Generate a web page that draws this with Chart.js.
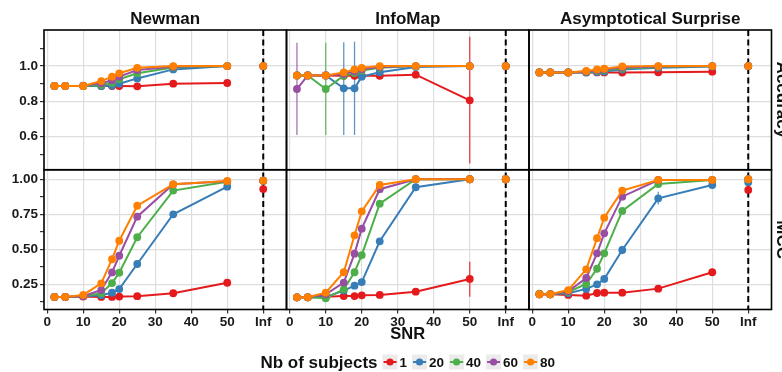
<!DOCTYPE html>
<html>
<head>
<meta charset="utf-8">
<script src="https://cdn.jsdelivr.net/npm/chart.js@4.4.1/dist/chart.umd.min.js"></script>
<style>
  html, body { margin: 0; padding: 0; background: #fff; }
  #wrap { position: relative; width: 782px; height: 372px; }
</style>
</head>
<body>
<div id="wrap"><canvas id="snrChart" width="782" height="372"></canvas></div>
<script>
// SNR values; "Inf" sits at x = 60
const INF = 60
const snr = [2, 5, 10, 15, 18, 20, 25, 35, 50, INF]
const snrTicks = [0, 10, 20, 30, 40, 50, INF]

const subjects = ['1', '20', '40', '60', '80']
const colors = ['#E41A1C', '#377EB8', '#4DAF4A', '#984EA3', '#FF7F00']

const methods = ['Newman', 'InfoMap', 'Asymptotical Surprise']
const metrics = ['Accuracy', 'MCC']

const accTicks = [0.5, 0.6, 0.7, 0.8, 0.9, 1.0, 1.1]
const accLabels = ['', '0.6', '', '0.8', '', '1.0', '']
const mccTicks = [0.125, 0.25, 0.375, 0.5, 0.625, 0.75, 0.875, 1.0]
const mccLabels = ['', '0.25', '', '0.50', '', '0.75', '', '1.00']

// accuracy, one row per nb of subjects (1, 20, 40, 60, 80)
const newmanAcc = [
  [0.887, 0.887, 0.887, 0.887, 0.887, 0.887, 0.885, 0.900, 0.904, 1.0],
  [0.887, 0.887, 0.887, 0.887, 0.890, 0.900, 0.930, 0.981, 1.0, 1.0],
  [0.887, 0.887, 0.887, 0.893, 0.905, 0.925, 0.959, 0.992, 1.0, 1.0],
  [0.887, 0.887, 0.889, 0.903, 0.920, 0.940, 0.977, 0.996, 1.0, 1.0],
  [0.887, 0.887, 0.887, 0.915, 0.940, 0.959, 0.990, 1.0, 1.0, 1.0]
]
const infomapAcc = [
  [0.947, 0.947, 0.947, 0.945, 0.945, 0.945, 0.945, 0.951, 0.806, 1.0],
  [0.947, 0.947, 0.947, 0.874, 0.874, 0.940, 0.965, 0.995, 1.0, 1.0],
  [0.947, 0.947, 0.870, 0.945, 0.960, 0.975, 0.990, 1.0, 1.0, 1.0],
  [0.870, 0.947, 0.947, 0.955, 0.970, 0.982, 0.995, 1.0, 1.0, 1.0],
  [0.947, 0.947, 0.947, 0.964, 0.981, 0.990, 1.0, 1.0, 1.0, 1.0]
]
const surpriseAcc = [
  [0.964, 0.964, 0.964, 0.964, 0.964, 0.964, 0.963, 0.965, 0.968, 1.0],
  [0.964, 0.964, 0.964, 0.964, 0.966, 0.969, 0.980, 0.990, 0.998, 1.0],
  [0.964, 0.964, 0.964, 0.967, 0.972, 0.976, 0.986, 0.995, 1.0, 1.0],
  [0.964, 0.964, 0.964, 0.969, 0.976, 0.981, 0.992, 0.998, 1.0, 1.0],
  [0.964, 0.964, 0.964, 0.972, 0.981, 0.985, 0.998, 1.0, 1.0, 1.0]
]

// MCC, one row per nb of subjects
const newmanMcc = [
  [0.160, 0.160, 0.163, 0.160, 0.160, 0.162, 0.165, 0.186, 0.261, 0.930],
  [0.160, 0.160, 0.165, 0.172, 0.190, 0.216, 0.395, 0.750, 0.947, 0.990],
  [0.160, 0.160, 0.165, 0.186, 0.259, 0.333, 0.586, 0.919, 0.983, 0.990],
  [0.160, 0.160, 0.165, 0.209, 0.335, 0.454, 0.733, 0.964, 0.985, 0.990],
  [0.160, 0.160, 0.174, 0.257, 0.429, 0.561, 0.811, 0.964, 0.988, 0.990]
]
const infomapMcc = [
  [0.157, 0.157, 0.161, 0.166, 0.166, 0.171, 0.174, 0.197, 0.288, 1.0],
  [0.157, 0.157, 0.160, 0.205, 0.240, 0.266, 0.557, 0.943, 1.0, 1.0],
  [0.157, 0.157, 0.150, 0.214, 0.336, 0.459, 0.826, 1.0, 1.0, 1.0],
  [0.157, 0.157, 0.179, 0.262, 0.469, 0.647, 0.929, 1.0, 1.0, 1.0],
  [0.157, 0.157, 0.190, 0.336, 0.600, 0.771, 0.959, 1.0, 1.0, 1.0]
]
const surpriseMcc = [
  [0.179, 0.179, 0.174, 0.169, 0.188, 0.190, 0.190, 0.219, 0.336, 0.924],
  [0.179, 0.179, 0.186, 0.217, 0.250, 0.288, 0.495, 0.864, 0.959, 0.979],
  [0.184, 0.179, 0.195, 0.252, 0.361, 0.471, 0.774, 0.966, 0.995, 1.0],
  [0.179, 0.179, 0.200, 0.295, 0.471, 0.614, 0.876, 0.995, 0.995, 1.0],
  [0.179, 0.179, 0.209, 0.357, 0.579, 0.726, 0.919, 0.995, 0.995, 1.0]
]

// error bars: method index, metric index, subject group index
const errBars = [
  { m: 1, k: 0, g: 3, x: 2, lo: 0.61, hi: 1.132 },
  { m: 1, k: 0, g: 2, x: 10, lo: 0.61, hi: 1.132 },
  { m: 1, k: 0, g: 1, x: 15, lo: 0.61, hi: 1.134 },
  { m: 1, k: 0, g: 1, x: 18, lo: 0.61, hi: 1.138 },
  { m: 1, k: 0, g: 0, x: 50, lo: 0.449, hi: 1.166 },
  { m: 1, k: 1, g: 0, x: 50, lo: 0.161, hi: 0.411 },
  { m: 2, k: 1, g: 0, x: 50, lo: 0.316, hi: 0.356 },
  { m: 2, k: 1, g: 1, x: 25, lo: 0.465, hi: 0.525 },
  { m: 2, k: 1, g: 1, x: 35, lo: 0.82, hi: 0.91 },
  { m: 2, k: 1, g: 1, x: 50, lo: 0.935, hi: 0.985 },
  { m: 0, k: 1, g: 0, x: INF, lo: 0.91, hi: 0.95 },
  { m: 2, k: 1, g: 0, x: INF, lo: 0.905, hi: 0.94 }
]

const panelData = [
  [newmanAcc, newmanMcc],
  [infomapAcc, infomapMcc],
  [surpriseAcc, surpriseMcc]
]

const FONT = '"Liberation Sans", Arial, Helvetica, sans-serif'
const tickFont = { family: FONT, size: 13.5, weight: 'bold' }

const datasets = []
methods.forEach((name, m) => {
  metrics.forEach((metric, k) => {
    subjects.forEach((s, g) => {
      const vals = panelData[m][k][g]
      datasets.push({
        label: name + ' ' + metric + ' ' + s,
        xAxisID: 'x' + m,
        yAxisID: k === 0 ? 'yAcc' : 'yMcc',
        data: snr.map((x, i) => ({ x: x, y: vals[i] })),
        borderColor: colors[g],
        backgroundColor: colors[g],
        borderWidth: 2,
        pointRadius: 3.9,
        pointBorderWidth: 0,
        order: 4 - g,
        // no line from 50 to Inf
        segment: {
          borderColor: ctx => (ctx.p1.parsed.x >= INF ? 'transparent' : colors[g])
        }
      })
    })
  })
})

function xScale (m) {
  return {
    type: 'linear',
    position: 'bottom',
    stack: 'cols',
    stackWeight: 1,
    min: -0.9,
    max: 66.46,
    afterBuildTicks: s => { s.ticks = snrTicks.map(v => ({ value: v })) },
    afterFit: s => { s.height = 34.5 },
    ticks: {
      callback: v => (v === INF ? 'Inf' : v),
      font: tickFont,
      color: '#1a1a1a',
      padding: 1,
      maxRotation: 0,
      autoSkip: false
    },
    grid: { color: '#dedede', lineWidth: 1.2, tickColor: '#333', tickLength: 4, tickWidth: 1.2 },
    border: { display: false },
    title: {
      display: m === 1,
      text: 'SNR',
      font: { family: FONT, size: 16.5, weight: 'bold' },
      color: '#111',
      padding: { top: 0, bottom: 0 }
    }
  }
}

function yScale (ticks, labels, min, max) {
  return {
    type: 'linear',
    position: 'left',
    stack: 'rows',
    stackWeight: 1,
    min: min,
    max: max,
    afterBuildTicks: s => { s.ticks = ticks.map(v => ({ value: v })) },
    afterFit: s => { s.width = 44 },
    ticks: {
      callback: (v, i) => labels[i],
      font: tickFont,
      color: '#1a1a1a',
      padding: 2,
      autoSkip: false
    },
    grid: {
      color: ctx => (labels[ctx.index] ? '#dedede' : 'transparent'),
      lineWidth: 1.2,
      tickColor: '#333',
      tickLength: 4,
      tickWidth: 1.2
    },
    border: { display: false }
  }
}

// dashed Inf line and error bars under the points, frames and labels on top
const facetPlugin = {
  id: 'facets',
  beforeDatasetsDraw (chart) {
    const { ctx, chartArea, scales } = chart
    ctx.save()
    methods.forEach((n, m) => {
      const xs = scales['x' + m]
      const px = xs.getPixelForValue(INF)
      ctx.beginPath()
      ctx.setLineDash([6, 3.5])
      ctx.strokeStyle = '#000'
      ctx.lineWidth = 2
      ctx.moveTo(px, chartArea.top)
      ctx.lineTo(px, chartArea.bottom)
      ctx.stroke()
    })
    ctx.setLineDash([])
    errBars.forEach(e => {
      const xs = scales['x' + e.m]
      const ys = e.k === 0 ? scales.yAcc : scales.yMcc
      const px = xs.getPixelForValue(e.x)
      ctx.beginPath()
      ctx.strokeStyle = colors[e.g]
      ctx.globalAlpha = 0.8
      ctx.lineWidth = 1.3
      ctx.moveTo(px, ys.getPixelForValue(e.lo))
      ctx.lineTo(px, ys.getPixelForValue(e.hi))
      ctx.stroke()
    })
    ctx.restore()
  },
  afterDatasetsDraw (chart) {
    const { ctx, scales } = chart
    ctx.save()
    ctx.strokeStyle = '#000'
    ctx.lineWidth = 1.6
    methods.forEach((n, m) => {
      const xs = scales['x' + m];
      [scales.yAcc, scales.yMcc].forEach(ys => {
        ctx.strokeRect(xs.left, ys.top, xs.right - xs.left, ys.bottom - ys.top)
      })
    })
    ctx.restore()
  },
  afterDraw (chart) {
    const { ctx, scales, chartArea } = chart
    ctx.save()
    ctx.fillStyle = '#111'
    ctx.font = 'bold 17px ' + FONT
    ctx.textAlign = 'center'
    ctx.textBaseline = 'alphabetic'
    methods.forEach((n, m) => {
      const xs = scales['x' + m]
      ctx.fillText(n, (xs.left + xs.right) / 2, 24)
    });
    [scales.yAcc, scales.yMcc].forEach((ys, k) => {
      ctx.save()
      ctx.translate(chartArea.right + 1.5, (ys.top + ys.bottom) / 2)
      ctx.rotate(Math.PI / 2)
      ctx.textBaseline = 'bottom'
      ctx.fillText(metrics[k], 0, 0)
      ctx.restore()
    })

    // legend
    const cy = 362
    const titleFont = 'bold 17px ' + FONT
    const itemFont = 'bold 13.5px ' + FONT
    ctx.font = titleFont
    const titleW = ctx.measureText('Nb of subjects').width
    ctx.font = itemFont
    const itemW = subjects.map(s => 15 + 2 + ctx.measureText(s).width)
    const total = titleW + 5 + itemW.reduce((a, b) => a + b, 0) + 5 * (subjects.length - 1)
    let x = (chartArea.left + chartArea.right) / 2 - total / 2
    ctx.textAlign = 'left'
    ctx.textBaseline = 'middle'
    ctx.font = titleFont
    ctx.fillText('Nb of subjects', x, cy + 1)
    x += titleW + 5
    subjects.forEach((s, g) => {
      ctx.fillStyle = '#ebebeb'
      ctx.fillRect(x, cy - 7.5, 15, 15)
      ctx.strokeStyle = colors[g]
      ctx.lineWidth = 2
      ctx.beginPath()
      ctx.moveTo(x + 1, cy)
      ctx.lineTo(x + 14, cy)
      ctx.stroke()
      ctx.fillStyle = colors[g]
      ctx.beginPath()
      ctx.arc(x + 7.5, cy, 3.6, 0, Math.PI * 2)
      ctx.fill()
      ctx.fillStyle = '#111'
      ctx.font = itemFont
      ctx.fillText(s, x + 17, cy + 1)
      x += itemW[g] + 5
    })
    ctx.restore()
  }
}

const config = {
  type: 'line',
  data: { datasets: datasets },
  options: {
    responsive: false,
    devicePixelRatio: 1,
    animation: false,
    events: [],
    layout: { padding: { left: 0, top: 30, right: 10.5, bottom: 28 } },
    plugins: { legend: { display: false }, tooltip: { enabled: false } },
    scales: {
      x0: xScale(0),
      x1: xScale(1),
      x2: xScale(2),
      yMcc: yScale(mccTicks, mccLabels, 0.07, 1.068),
      yAcc: yScale(accTicks, accLabels, 0.413, 1.204)
    }
  },
  plugins: [facetPlugin]
}

Chart.defaults.font.family = FONT
var snrChart = new Chart(document.getElementById('snrChart'), config)
</script>
</body>
</html>
